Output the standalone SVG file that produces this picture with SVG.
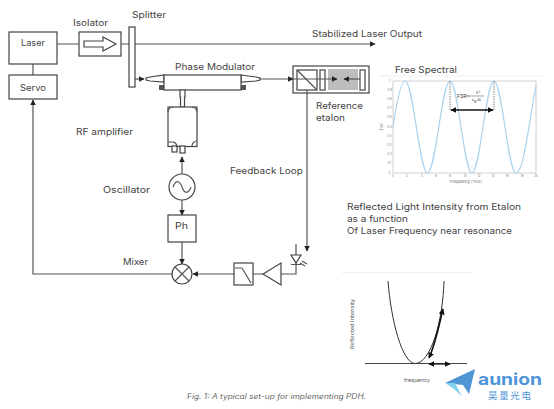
<svg xmlns="http://www.w3.org/2000/svg" width="554" height="409" viewBox="0 0 554 409">
<style>
text{font-family:"Inter","Open Sans","Liberation Sans",sans-serif;font-size:9px;fill:#444}
.box{fill:#fff;stroke:#444;stroke-width:1.2}
.ln{fill:none;stroke:#555;stroke-width:1.2}
.tk{font-size:3px;fill:#777;text-anchor:middle}
</style>
<defs>
<marker id="a" viewBox="0 0 10 10" refX="9" refY="5" markerWidth="5.5" markerHeight="5.5" markerUnits="userSpaceOnUse" orient="auto"><path d="M0 0L10 5L0 10z" fill="#222"/></marker>
<marker id="b" viewBox="0 0 10 10" refX="9" refY="5" markerWidth="6" markerHeight="6" markerUnits="userSpaceOnUse" orient="auto-start-reverse"><path d="M0 0L10 5L0 10z" fill="#111"/></marker>
</defs>
<g id="connectors">
<path class="ln" d="M57 44H79M121 44H129"/>
<path class="ln" d="M135 44H375" marker-end="url(#a)"/>
<path class="ln" d="M33 75V58" marker-end="url(#a)"/>
<path class="ln" d="M172 274H33V100" marker-end="url(#a)"/>
<path class="ln" d="M135 79H144" marker-end="url(#a)"/>
<path class="ln" d="M260 79H293" marker-end="url(#a)"/>
<path class="ln" d="M182 174V157" marker-end="url(#a)"/>
<path class="ln" d="M182 200V215" marker-end="url(#a)"/>
<path class="ln" d="M182 242V264" marker-end="url(#a)"/>
<path class="ln" d="M234 274H193" marker-end="url(#a)"/>
<path class="ln" d="M307 90V251" marker-end="url(#a)"/>
<path class="ln" d="M253 274H263M281 274H296V265"/>
</g>
<g id="laser"><rect class="box" x="9" y="32" width="48" height="32"/><text x="21" y="46" textLength="24" lengthAdjust="spacingAndGlyphs">Laser</text></g>
<g id="servo"><rect class="box" x="9" y="75" width="48" height="24"/><text x="20" y="91" textLength="26" lengthAdjust="spacingAndGlyphs">Servo</text></g>
<g id="isolator"><rect class="box" x="79" y="32" width="42" height="24"/><path class="box" d="M84 41H103V37L116 44L103 51V47H84z"/><text x="73" y="26" textLength="35" lengthAdjust="spacingAndGlyphs">Isolator</text></g>
<g id="splitter"><rect class="box" x="129" y="27" width="6" height="60"/><text x="132" y="18" textLength="34" lengthAdjust="spacingAndGlyphs">Splitter</text></g>
<text x="312" y="37" textLength="110" lengthAdjust="spacingAndGlyphs">Stabilized Laser Output</text>
<g id="phase-modulator">
<path class="box" d="M146 78L150 77L164 75V82L150 81L146 80z"/>
<path class="box" d="M241 75L256 77L260 78V80L256 81L241 82z"/>
<rect x="159" y="85" width="6" height="5" fill="#555"/><rect x="240" y="85" width="6" height="5" fill="#555"/>
<rect class="box" x="164" y="75" width="77" height="15"/>
<text x="175" y="70" textLength="80" lengthAdjust="spacingAndGlyphs">Phase Modulator</text>
</g>
<g id="rf-amplifier">
<path class="box" d="M180 90H185V97H184.500V107H180.500V97H180z"/>
<rect class="box" x="168" y="107" width="29" height="39.500"/>
<path class="ln" d="M168 112A5 5 0 0 1 173 107M192 107A5 5 0 0 1 197 112M168 142H173A5 5 0 0 1 177 146M192 146A5 5 0 0 1 197 141"/>
<rect class="box" x="172" y="146" width="5" height="6"/><rect class="box" x="180" y="146" width="5" height="7"/>
<text x="76" y="135" textLength="57" lengthAdjust="spacingAndGlyphs">RF amplifier</text>
</g>
<g id="oscillator"><circle class="box" cx="182" cy="187" r="13"/><path class="ln" d="M173 187C176 179 180 181 182 187S188 195 191 187"/><text x="103" y="193" textLength="47" lengthAdjust="spacingAndGlyphs">Oscillator</text></g>
<g id="ph"><rect class="box" x="168" y="215" width="28" height="27"/><text x="175" y="229" textLength="13" lengthAdjust="spacingAndGlyphs">Ph</text></g>
<g id="mixer"><circle class="box" cx="182" cy="274" r="10"/><path class="ln" d="M175 267L189 281M189 267L175 281"/><text x="123" y="265" textLength="25" lengthAdjust="spacingAndGlyphs">Mixer</text></g>
<g id="filter"><rect class="box" x="234" y="263" width="19" height="22"/><path class="ln" d="M235 268H242L251 283"/></g>
<g id="amplifier"><path class="box" d="M263 274L281 263V285z"/></g>
<g id="photodiode"><path class="ln" d="M296 244V265M291 264.500H301"/><path class="box" d="M291 255H301L296 263z"/><path class="ln" d="M302 261L307 264M300 263L305 266" stroke-width=".8"/></g>
<text x="230" y="174" textLength="73" lengthAdjust="spacingAndGlyphs">Feedback Loop</text>
<g id="etalon">
<rect x="293" y="66" width="76" height="27" fill="#fff" stroke="#444" stroke-width="1.2"/>
<rect x="328" y="69" width="30" height="21" fill="#bdbdbd"/>
<rect class="box" x="297" y="70" width="20" height="20"/><path class="ln" d="M297 70L317 90"/>
<rect class="box" x="320" y="70" width="5" height="20"/><rect class="box" x="360" y="70" width="5" height="20"/>
<path class="ln" d="M293 79H337" marker-end="url(#a)"/><path class="ln" d="M360 79H344" marker-end="url(#a)"/>
<path class="ln" d="M307 90V93"/>
<text x="316" y="109" textLength="47" lengthAdjust="spacingAndGlyphs">Reference</text><text x="316" y="121" textLength="29" lengthAdjust="spacingAndGlyphs">etalon</text>
</g>
<g id="fsr-plot">
<path d="M379 76H542" stroke="#eee"/>
<text x="395" y="73" textLength="62" lengthAdjust="spacingAndGlyphs">Free Spectral</text>
<rect x="393" y="81" width="143" height="92" fill="#fff" stroke="#bbb" stroke-width=".7"/>
<path d="M393 127C397 100 401 81 405.300 81C413 81 419.500 173 427.500 173C435.500 173 442 81 450 81C458 81 464 173 472 173C480 173 486 81 494 81C502 81 508 173 516 173C524 173 530 115 536 86" fill="none" stroke="#a9d2ee" stroke-width="1.200"/>
<path d="M450 81V110M494 81V110" stroke="#666" stroke-width=".8" stroke-dasharray="1.500 1"/>
<path d="M451 110H493" stroke="#111" stroke-width="1.400" marker-start="url(#b)" marker-end="url(#b)"/>
<text x="457" y="98" style="font-size:5px;fill:#333">FSR=</text>
<path d="M470 96H484" stroke="#444" stroke-width=".5"/>
<text x="476" y="94" style="font-size:4px;fill:#333">λ²</text>
<text x="472" y="101" style="font-size:3.500px;fill:#333">n<tspan dy="1">g</tspan><tspan dy="-1"> ΔL</tspan></text>
<text class="tk" x="389.500" y="82">1</text><text class="tk" x="389.500" y="91">0.9</text><text class="tk" x="389.500" y="100">0.8</text><text class="tk" x="389.500" y="109">0.7</text><text class="tk" x="389.500" y="118">0.6</text><text class="tk" x="389.500" y="127.500">0.5</text><text class="tk" x="389.500" y="137">0.4</text><text class="tk" x="389.500" y="146">0.3</text><text class="tk" x="389.500" y="155">0.2</text><text class="tk" x="389.500" y="164">0.1</text><text class="tk" x="389.500" y="173.500">0</text>
<text class="tk" x="393" y="177">0</text><text class="tk" x="407" y="177">2</text><text class="tk" x="422" y="177">4</text><text class="tk" x="436" y="177">6</text><text class="tk" x="450" y="177">8</text><text class="tk" x="465" y="177">10</text><text class="tk" x="479" y="177">12</text><text class="tk" x="493" y="177">14</text><text class="tk" x="507" y="177">16</text><text class="tk" x="522" y="177">18</text><text class="tk" x="536" y="177">20</text>
<text x="466" y="183" text-anchor="middle" style="font-size:4px;fill:#666">Frequency [THz]</text>
<text transform="translate(383 127) rotate(-90)" text-anchor="middle" style="font-size:4px;fill:#666">T(v)</text>
</g>
<g id="description">
<text x="347" y="210" textLength="174" lengthAdjust="spacingAndGlyphs">Reflected Light Intensity from Etalon</text>
<text x="347" y="222" textLength="61" lengthAdjust="spacingAndGlyphs">as a function</text>
<text x="347" y="234" textLength="165" lengthAdjust="spacingAndGlyphs">Of Laser Frequency near resonance</text>
</g>
<g id="resonance-plot">
<path d="M342 272.500H472" stroke="#eee"/>
<path d="M388 281C391 320 402 363 415 363.500C431 363.500 443 320 444 281" fill="none" stroke="#333" stroke-width="1"/>
<path d="M365 363.500H467" stroke="#444" stroke-width="1"/>
<path d="M429 364H450" stroke="#111" stroke-width="1.200" marker-start="url(#b)" marker-end="url(#b)"/>
<path d="M429 358C436 342 439 325 443 309" fill="none" stroke="#111" stroke-width="1.600" marker-start="url(#b)" marker-end="url(#b)"/>
<text x="-324" y="354" transform="rotate(-90)" text-anchor="middle" textLength="50" lengthAdjust="spacingAndGlyphs" style="font-size:5px;fill:#555">Reflected Intensity</text>
<text x="404" y="382" textLength="26" lengthAdjust="spacingAndGlyphs" style="font-size:5px;fill:#555">frequency</text>
</g>
<text x="187" y="399" textLength="179" lengthAdjust="spacingAndGlyphs" style="font-size:7px;font-style:italic;fill:#666">Fig. 1: A typical set-up for implementing PDH.</text>
<g id="logo">
<path d="M445 383L475 369L469 394L463 385z" fill="#4f95d6"/>
<path d="M445 383H455L462 397C457 391 452 387 445 383z" fill="#7fd0ee"/>
<text x="478" y="385" textLength="64" lengthAdjust="spacingAndGlyphs" style="font-size:16px;font-weight:700;fill:#4f95d6">aunion</text>
<text x="488" y="399" textLength="43" style="font-family:'Noto Sans CJK SC',sans-serif;font-size:9.500px;fill:#4f95d6">昊量光电</text>
</g>
</svg>
